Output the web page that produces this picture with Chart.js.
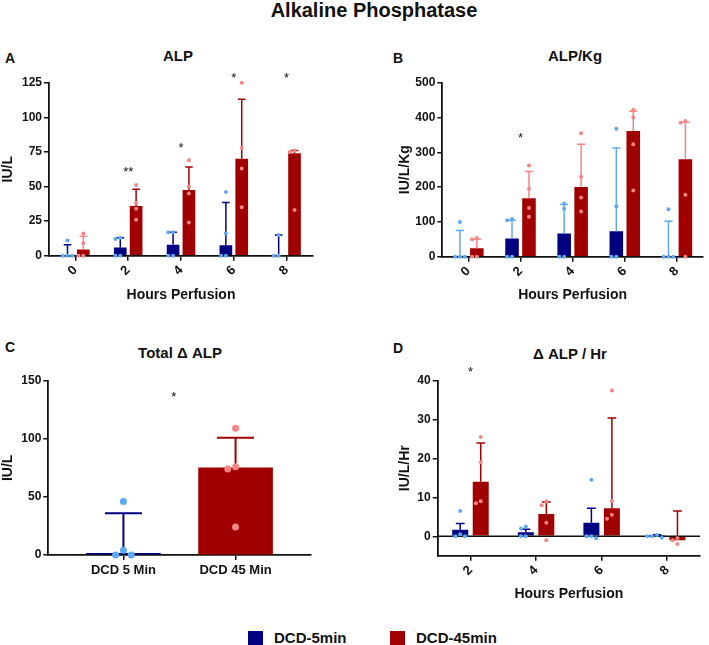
<!DOCTYPE html>
<html><head><meta charset="utf-8">
<script src="https://cdn.jsdelivr.net/npm/chart.js@4.4.1/dist/chart.umd.min.js"></script>
<style>
html,body{margin:0;padding:0;background:#fff;}
#wrap{position:relative;width:709px;height:645px;overflow:hidden;background:#fff;font-family:"Liberation Sans",Arial,sans-serif;color:#111;}
canvas{position:absolute;}
.t{position:absolute;font-weight:bold;white-space:nowrap;line-height:1;transform:translate(-50%,-50%);}
.sq{position:absolute;width:15px;height:14px;}
</style></head>
<body><div id="wrap">
<div class="t" style="left:374px;top:10px;font-size:20px">Alkaline Phosphatase</div>
<div class="t" style="left:10px;top:58px;font-size:14px">A</div>
<div class="t" style="left:398px;top:58px;font-size:14px">B</div>
<div class="t" style="left:10px;top:347px;font-size:14px">C</div>
<div class="t" style="left:398px;top:348px;font-size:14px">D</div>
<div class="t" style="left:178px;top:55px;font-size:15px">ALP</div>
<div class="t" style="left:575px;top:55px;font-size:15px">ALP/Kg</div>
<div class="t" style="left:180px;top:352px;font-size:15px">Total Δ ALP</div>
<div class="t" style="left:570px;top:353px;font-size:15px">Δ ALP / Hr</div>
<div class="sq" style="left:248px;top:631px;background:#000080"></div>
<div class="t" style="left:274px;top:637px;font-size:15px;transform:translate(0,-50%)">DCD-5min</div>
<div class="sq" style="left:390px;top:631px;background:#a00000"></div>
<div class="t" style="left:416px;top:637px;font-size:15px;transform:translate(0,-50%)">DCD-45min</div>
</div>
<script>
// ---------------- DATA ----------------
const hoursAB = ['0', '2', '4', '6', '8'];
const hoursD = ['2', '4', '6', '8'];
const catsC = ['DCD 5 Min', 'DCD 45 Min'];

// Panel A: ALP (IU/L)
const alp5Bar = [0, 6, 8, 7.5, 0];
const alp5Err = [8, 13, 17, 38.5, 15];
const alp5Pts = [[11, 0, 0, 0], [13, 12, 0, 0], [17, 17, 0, 0], [46, 16, 0, 0], [15, 0, 0]];
const alp45Bar = [4.5, 36, 47.5, 70, 74];
const alp45Err = [14, 48, 64, 113, 76];
const alp45Pts = [[16, 9, 0, 0], [51, 38, 34, 26], [69, 50, 45, 24], [125, 78, 63, 35], [76, 75, 33]];
const alpStars = [{at: 1, v: 62, t: '**'}, {at: 2, v: 80, t: '*'}, {at: 3, v: 130, t: '*'}, {at: 4, v: 130, t: '*'}];

// Panel B: ALP/Kg (IU/L/Kg)
const kg5Bar = [0, 52, 67, 73, 0];
const kg5Err = [75, 105, 150, 312, 102];
const kg5Pts = [[100, 0, 0, 0], [108, 105, 0, 0], [153, 138, 0, 0], [368, 145, 0, 0], [136, 0, 0, 0]];
const kg45Bar = [24, 168, 200, 361, 280];
const kg45Err = [50, 245, 323, 418, 386];
const kg45Pts = [[54, 50, 0, 0], [262, 195, 140, 115], [355, 230, 170, 130], [422, 400, 323, 190], [390, 385, 178, 0]];
const kgStars = [{at: 1, v: 348, t: '*'}];

// Panel C: Total delta ALP (IU/L)
const totBar = [1.5, 75];
const totErr = [36, 101];
const totPts = [[46, 4, 0, 0], [109, 76, 74, 24]];
const totStars = [{at: 0.45, v: 138, t: '*'}];

// Panel D: delta ALP per hour (IU/L/Hr)
const hr5Bar = [1.7, 1.0, 3.5, 0.3];
const hr5Err = [3.3, 1.8, 7.2, 0.4];
const hr5Pts = [[6.5, 0.5, 0, 0], [2.5, 2.0, 0, 0], [14.5, 0, 0, -0.5], [0.3, 0, -0.4, 0]];
const hr45Bar = [14, 5.7, 7.2, -1];
const hr45Err = [24, 8.8, 30.4, 6.5];
const hr45Pts = [[25.5, 19, 9, 8.5], [9, 8, 3.5, -1], [37.5, 9, 5.5, 4.5], [-2, -1, -0.5]];
const hrStars = [{at: 0, v: 43, t: '*'}];

// ---------------- STYLE ----------------
const NAVY = '#000080', RED = '#a00000', LBLUE = '#5ea9f3', PINK = '#f78585', INK = '#111';
const FONT = '"Liberation Sans", Arial, sans-serif';
const wrap = document.getElementById('wrap');

const overlay = {
  id: 'overlay',
  afterDatasetsDraw(chart, args, o) {
    const ctx = chart.ctx, ys = chart.scales.y, xs = chart.scales.x, ca = chart.chartArea;
    ctx.save();
    if (o.zeroLine) {
      const y0 = ys.getPixelForValue(0);
      ctx.strokeStyle = INK; ctx.lineWidth = 1.6;
      ctx.beginPath(); ctx.moveTo(ca.left, y0); ctx.lineTo(ca.right, y0); ctx.stroke();
    }
    chart.data.datasets.forEach((ds, di) => {
      const meta = chart.getDatasetMeta(di);
      meta.data.forEach((bar, j) => {
        const col = Array.isArray(ds.errColor) ? ds.errColor[j] : ds.errColor;
        const ye = ys.getPixelForValue(ds.err[j]);
        const cap = bar.width * o.capFrac / 2;
        ctx.strokeStyle = col; ctx.lineWidth = o.errW;
        ctx.beginPath();
        ctx.moveTo(bar.x, bar.y); ctx.lineTo(bar.x, ye);
        ctx.moveTo(bar.x - cap, ye); ctx.lineTo(bar.x + cap, ye);
        ctx.stroke();
      });
    });
    chart.data.datasets.forEach((ds, di) => {
      const meta = chart.getDatasetMeta(di);
      meta.data.forEach((bar, j) => {
        const r = o.r, d = 2 * r + 0.8, placed = [];
        const pc = Array.isArray(ds.ptColor) ? ds.ptColor[j] : ds.ptColor;
        ctx.fillStyle = pc;
        ds.pts[j].forEach(v => {
          const py = ys.getPixelForValue(v);
          let k = 0;
          for (const c of [0, -1, 1, -2, 2, -3, 3]) {
            if (placed.every(p => Math.hypot((p.k - c) * d, p.y - py) >= d - 0.01)) { k = c; break; }
          }
          placed.push({k, y: py});
          ctx.beginPath(); ctx.arc(bar.x + k * d, py, r, 0, Math.PI * 2); ctx.fill();
        });
      });
    });
    ctx.fillStyle = INK; ctx.font = '13px ' + FONT; ctx.textAlign = 'center'; ctx.textBaseline = 'middle';
    (o.stars || []).forEach(s => ctx.fillText(s.t, xs.getPixelForValue(s.at), ys.getPixelForValue(s.v) + 3));
    ctx.restore();
  }
};

function panel(p) {
  const c = document.createElement('canvas');
  c.width = p.w; c.height = p.h;
  c.style.left = p.left + 'px'; c.style.top = p.top + 'px';
  wrap.appendChild(c);
  const a = p.area;
  const tickFont = {family: FONT, size: 12, weight: 'bold'};
  const titleFont = {family: FONT, size: 14, weight: 'bold'};
  const gridCfg = {drawOnChartArea: false, drawTicks: true, tickLength: 5, color: INK, lineWidth: 1.5};
  const xScale = {
    type: 'category', offset: true,
    grid: Object.assign({offset: false}, gridCfg),
    border: {color: INK, width: 1.8},
    ticks: p.flatX
      ? {font: {family: FONT, size: 13, weight: 'bold'}, color: INK, minRotation: 0, maxRotation: 0, padding: 3, autoSkip: false}
      : {font: {family: FONT, size: 13, weight: 'bold'}, color: INK, minRotation: 45, maxRotation: 45, padding: 2, autoSkip: false},
    title: {display: !!p.xTitle, text: p.xTitle, font: titleFont, color: INK, padding: {top: 0, bottom: p.xTitlePad || 0}},
    afterFit: s => { s.height = p.top + p.h - a.b; }
  };
  if (p.xRange) {
    // widen the category axis beyond the default half-category padding
    xScale.afterBuildTicks = s => { s._startValue = p.xRange[0]; s._valueRange = p.xRange[1] - p.xRange[0]; };
  }
  return new Chart(c, {
    type: 'bar',
    data: {
      labels: p.labels,
      datasets: p.datasets.map(d => ({
        data: d.data, backgroundColor: d.color, borderWidth: 0,
        categoryPercentage: p.catPct, barPercentage: p.barPct, barThickness: d.barThickness,
        err: d.err, errColor: d.errColor, pts: d.pts, ptColor: d.ptColor
      }))
    },
    options: {
      responsive: false, animation: false, events: [],
      layout: {padding: {top: a.t - p.top, right: p.left + p.w - a.r, left: 0, bottom: 0}},
      plugins: {
        legend: {display: false}, tooltip: {enabled: false},
        overlay: {r: p.r, errW: p.errW, capFrac: p.capFrac, stars: p.stars, zeroLine: p.zeroLine}
      },
      scales: {
        x: xScale,
        y: {
          type: 'linear', min: p.yMin, max: p.yMax,
          afterBuildTicks: s => { s.ticks = p.yTicks.map(v => ({value: v})); },
          ticks: {font: tickFont, color: INK, padding: 2},
          grid: Object.assign({}, gridCfg),
          border: {color: INK, width: 1.8},
          title: {display: true, text: p.yTitle, font: titleFont, color: INK, padding: {top: p.yTitlePad, bottom: 0}},
          afterFit: s => { s.width = a.l - p.left; }
        }
      }
    },
    plugins: [overlay]
  });
}

// Panel A
panel({
  left: 0, top: 40, w: 350, h: 270, area: {l: 49, t: 82.7, r: 313, b: 255.7},
  labels: hoursAB, yMin: 0, yMax: 125, yTicks: [0, 25, 50, 75, 100, 125],
  yTitle: 'IU/L', yTitlePad: 0, xTitle: 'Hours Perfusion', xTitlePad: 6,
  catPct: 0.6, barPct: 0.8, r: 2, errW: 1.5, capFrac: 0.6, stars: alpStars,
  datasets: [
    {data: alp5Bar, color: NAVY, err: alp5Err, errColor: NAVY, pts: alp5Pts, ptColor: LBLUE},
    {data: alp45Bar, color: RED, err: alp45Err, errColor: [PINK, RED, RED, RED, RED], pts: alp45Pts, ptColor: PINK}
  ]
});

// Panel B
panel({
  left: 355, top: 40, w: 354, h: 270, area: {l: 442.3, t: 82.7, r: 703, b: 256.7},
  labels: hoursAB, yMin: 0, yMax: 500, yTicks: [0, 100, 200, 300, 400, 500],
  yTitle: 'IU/L/Kg', yTitlePad: 41.6, xTitle: 'Hours Perfusion', xTitlePad: 6,
  catPct: 0.65, barPct: 0.8, r: 2, errW: 1.5, capFrac: 0.6, stars: kgStars,
  datasets: [
    {data: kg5Bar, color: NAVY, err: kg5Err, errColor: LBLUE, pts: kg5Pts, ptColor: LBLUE},
    {data: kg45Bar, color: RED, err: kg45Err, errColor: PINK, pts: kg45Pts, ptColor: PINK}
  ]
});

// Panel C
panel({
  left: 0, top: 310, w: 350, h: 270, area: {l: 48.3, t: 380.7, r: 310.7, b: 555},
  flatX: true, xRange: [-0.67, 1.67],
  labels: catsC, yMin: 0, yMax: 150, yTicks: [0, 50, 100, 150],
  yTitle: 'IU/L', yTitlePad: 0,
  catPct: 1, barPct: 1, r: 3.5, errW: 2, capFrac: 0.5, stars: totStars,
  datasets: [
    {data: totBar, color: [NAVY, RED], barThickness: 74,
     err: totErr, errColor: [NAVY, RED], pts: totPts, ptColor: [LBLUE, PINK]}
  ]
});

// Panel D
panel({
  left: 355, top: 310, w: 354, h: 300, area: {l: 437.7, t: 380.7, r: 700, b: 555.7},
  labels: hoursD, yMin: -5, yMax: 40, yTicks: [0, 10, 20, 30, 40],
  yTitle: 'IU/L/Hr', yTitlePad: 41.6, xTitle: 'Hours Perfusion', xTitlePad: 7.6,
  catPct: 0.625, barPct: 0.78, r: 2, errW: 1.5, capFrac: 0.55, stars: hrStars, zeroLine: true,
  datasets: [
    {data: hr5Bar, color: NAVY, err: hr5Err, errColor: NAVY, pts: hr5Pts, ptColor: LBLUE},
    {data: hr45Bar, color: RED, err: hr45Err, errColor: RED, pts: hr45Pts, ptColor: PINK}
  ]
});
</script>
</body></html>
